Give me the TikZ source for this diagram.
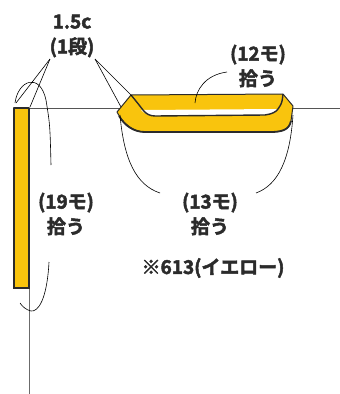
\documentclass[tikz,border=0pt]{standalone}
\usepackage{fontspec}
\newfontfamily\jpfont{Noto Sans CJK JP Bold}[FakeBold=2.5]
\definecolor{yarn}{HTML}{F9C40D}
\definecolor{ink}{HTML}{2B2B2B}

\begin{document}
\begin{tikzpicture}[x=1pt, y=-1pt,
	lbl/.style = {font=\jpfont\fontsize{19}{25}\selectfont, text=ink, align=center, inner sep=0pt},
	lead/.style = {line width=0.6pt, black},
	band/.style = {fill=yarn, draw=ink, line width=1pt, line join=round}]
\useasboundingbox (0,0) rectangle (340,394);
\def\base{108}
% base line and the left strip
\draw[ink!80, line width=0.9pt] (14,\base) -- (340,\base);
\draw[ink!70, line width=0.9pt] (29,288) -- (29,394);
\draw[band, line width=1.4pt] (14,\base) rectangle (29,288);
\draw[ink, line width=2.4pt] (13,288) -- (30,288);
% folded band
\draw[band] (117,112) -- (131,95) -- (283,94) -- (293,106) -- (291,121)
	.. controls (289,130) and (282,132) .. (270,132) -- (145,132)
	.. controls (132,132) and (122,122) .. (117,112) -- cycle;
\draw[ink, line width=1.8pt] (119,116) .. controls (125,126) and (134,132) .. (145,132)
	-- (270,132) .. controls (282,132) and (289,130) .. (291,121);
\fill[white] (141,110) -- (278,109) .. controls (276,113) and (272,114) .. (265,115)
	-- (155,116) .. controls (148,116) and (144,113) .. (141,110) -- cycle;
\draw[ink, line width=1.4pt] (131,95) .. controls (136,101) .. (143,110)
	.. controls (146,114) and (150,116) .. (155,116) -- (265,115)
	.. controls (272,114) and (276,112) .. (278,109) .. controls (282,103) .. (283,94);
% labels
\node[lbl] (gauge) at (72,36) {1.5c\\(1段)};
\node[lbl] (top) at (258,66) {(12モ)\\拾う};
\node[lbl] (bottom) at (210,214) {(13モ)\\拾う};
\node[lbl] (side) at (66,214) {(19モ)\\拾う};
\node[lbl] (note) at (213,268) {※613(イエロー)};
% leader lines
\coordinate (gl) at (50,59);
\coordinate (gr) at (95,59);
\draw[lead] (gl) -- (16,103);
\draw[lead] (gl) -- (30,107);
\draw[lead] (gr) -- (121,107);
\draw[lead] (gr) -- (132,96);
\draw[lead] (227,72) .. controls (205,75) and (196,90) .. (195,103);
\draw[lead] (120,115) .. controls (124,160) and (136,185) .. (160,193);
\draw[lead] (293,115) .. controls (290,160) and (278,185) .. (256,193);
\draw[lead] (15,103) .. controls (18,80) and (40,72) .. (46,100) .. controls (50,125) .. (51,165);
\draw[lead] (49,262) .. controls (47,300) and (38,312) .. (31,311) .. controls (26,310) and (22,306) .. (20,303);
\end{tikzpicture}
\end{document}
